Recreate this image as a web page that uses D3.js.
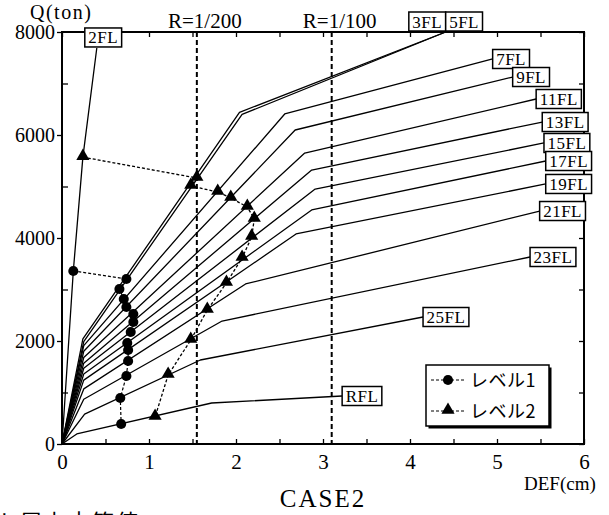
<!DOCTYPE html>
<html><head><meta charset="utf-8">
<script src="https://cdn.jsdelivr.net/npm/d3@7"></script>
<style>body{margin:0;background:#fff}</style>
</head><body>
<script>
// ---- data ----
const floors   = ["2FL","3FL","5FL","7FL","9FL","11FL","13FL","15FL","17FL","19FL","21FL","23FL","25FL","RFL"];
const bend1Def = [0.13,0.24,0.25,0.25,0.25,0.25,0.25,0.25,0.25,0.25,0.25,0.25,0.26,0.17];
const bend1Q   = [3360,2040,1990,1910,1800,1680,1570,1470,1360,1240,1070,870,580,195];
const bend2Def = [0.24,2.04,2.07,2.56,2.68,2.79,2.87,2.91,2.87,2.69,2.11,1.84,1.59,1.72];
const bend2Q   = [5570,6440,6400,6408,6097,5650,5320,4951,4544,4078,3107,2388,1631,796];
const endDef   = [0.40,4.41,4.41,4.95,5.18,5.45,5.52,5.54,5.56,5.56,5.49,5.38,4.15,3.22];
const endQ     = [7690,8000,8000,7476,7126,6699,6252,5845,5495,5049,4524,3631,2466,932];
const level1Def = [0.13,0.74,0.66,0.71,0.74,0.82,0.82,0.79,0.75,0.76,0.76,0.74,0.67,0.68];
const level1Q   = [3360,3204,3010,2816,2660,2524,2369,2175,1961,1825,1612,1320,893,388];
const level2Def = [0.24,1.55,1.48,1.79,1.94,2.13,2.21,2.18,2.07,1.89,1.67,1.48,1.22,1.07];
const level2Q   = [5570,5165,5010,4893,4777,4602,4369,4020,3612,3126,2602,2019,1340,524];
const xTicks = [0,1,2,3,4,5,6];
const yTicks = [0,2000,4000,6000,8000];
const driftDef = [1.55,3.1];
const driftLabels = ["R=1/200","R=1/100"];
const legendLabels = ["レベル1","レベル2"];

// ---- chart ----
const W=609,H=515;
const svg=d3.select("body").append("svg").attr("width",W).attr("height",H);
const x=d3.scaleLinear().domain([0,6]).range([62,584]);
const y=d3.scaleLinear().domain([0,8000]).range([444,32]);
const serif="'Liberation Serif','DejaVu Serif',serif";
const jp="'Noto Sans CJK JP',sans-serif";

// axes ticks
const gB=svg.append("g").attr("transform",`translate(0,${y(0)})`)
  .call(d3.axisBottom(x).tickValues(d3.range(0,6.01,0.5)).tickSize(-5).tickPadding(10)
    .tickFormat(d=>xTicks.includes(d)?d:""));
const gT=svg.append("g").attr("transform",`translate(0,${y(8000)})`)
  .call(d3.axisTop(x).tickValues(d3.range(0,6.01,0.5)).tickSize(-5).tickFormat(""));
const gL=svg.append("g").attr("transform",`translate(${x(0)},0)`)
  .call(d3.axisLeft(y).tickValues(yTicks).tickSize(5).tickPadding(2).tickFormat(d3.format("d")));
const gL2=svg.append("g").attr("transform",`translate(${x(0)},0)`)
  .call(d3.axisLeft(y).tickValues([1000,3000,5000,7000]).tickSize(-6).tickFormat(""));
const gR=svg.append("g").attr("transform",`translate(${x(6)},0)`)
  .call(d3.axisRight(y).tickValues(d3.range(0,8001,1000)).tickSize(-5).tickFormat(""));
[gB,gT,gL,gL2,gR].forEach(g=>{
  g.select(".domain").remove();
  g.selectAll("line").attr("stroke","#000").attr("stroke-width",1.3);
  g.selectAll("text").attr("font-family",serif).attr("font-size",20).attr("fill","#000");
});
gB.selectAll("text").attr("font-size",21);

// frame
svg.append("rect").attr("x",x(0)).attr("y",y(8000)).attr("width",x(6)-x(0)).attr("height",y(0)-y(8000))
  .attr("fill","none").attr("stroke","#000").attr("stroke-width",2);

// drift lines
driftDef.forEach((d,i)=>{
  svg.append("line").attr("x1",x(d)).attr("x2",x(d)).attr("y1",y(8000)).attr("y2",y(0))
    .attr("stroke","#000").attr("stroke-width",2).attr("stroke-dasharray","5,3");
  svg.append("text").attr("x",x(d)+8).attr("y",28).attr("text-anchor","middle")
    .attr("font-family",serif).attr("font-size",21).text(driftLabels[i]);
});

// floor curves
const line=d3.line().x(d=>x(d[0])).y(d=>y(d[1]));
floors.forEach((f,i)=>{
  const pts=[[0,0],[bend1Def[i],bend1Q[i]],[bend2Def[i],bend2Q[i]],[endDef[i],endQ[i]]];
  svg.append("path").attr("d",line(pts)).attr("fill","none").attr("stroke","#000")
    .attr("stroke-width",1.3).attr("stroke-linejoin","round");
});

// level connection lines and markers
svg.append("path").attr("d",line(level1Def.map((d,i)=>[d,level1Q[i]])))
  .attr("fill","none").attr("stroke","#000").attr("stroke-width",1.2).attr("stroke-dasharray","3,2");
svg.append("path").attr("d",line(level2Def.map((d,i)=>[d,level2Q[i]])))
  .attr("fill","none").attr("stroke","#000").attr("stroke-width",1.3).attr("stroke-dasharray","3,2");
const circ=d3.symbol().type(d3.symbolCircle).size(80);
const tri=d3.symbol().type(d3.symbolTriangle).size(75);
level1Def.forEach((d,i)=>svg.append("path").attr("d",circ()).attr("transform",`translate(${x(d)},${y(level1Q[i])})`));
level2Def.forEach((d,i)=>svg.append("path").attr("d",tri()).attr("transform",`translate(${x(d)},${y(level2Q[i])-1})`));

// floor labels
floors.forEach((f,i)=>{
  const ex=x(endDef[i]), ey=y(endQ[i]);
  const g=svg.append("g");
  const t=g.append("text").attr("font-family",serif).attr("font-size",17).attr("letter-spacing",0.5).text(f);
  const w=t.node().getComputedTextLength()+7, h=19;
  let bx,by;
  if(f==="2FL"){bx=ex-12;by=ey-h-1;}
  else if(f==="3FL"){bx=ex-w;by=ey-h-1;}
  else if(f==="5FL"){bx=ex;by=ey-h-1;}
  else {bx=ex;by=ey-h/2;}
  g.insert("rect","text").attr("x",bx).attr("y",by).attr("width",w).attr("height",h)
    .attr("fill","#fff").attr("stroke","#000").attr("stroke-width",1.5);
  t.attr("x",bx+w/2).attr("y",by+h/2+6).attr("text-anchor","middle");
});

// axis titles
svg.append("text").attr("x",30).attr("y",19).attr("font-family",serif).attr("font-size",20)
  .attr("letter-spacing",1.5).text("Q(ton)");
svg.append("text").attr("x",524).attr("y",490).attr("font-family",serif).attr("font-size",19).text("DEF(cm)");
svg.append("text").attr("x",323).attr("y",507).attr("text-anchor","middle").attr("font-family",serif)
  .attr("font-size",25).attr("letter-spacing",2).text("CASE2");
svg.append("text").attr("x",-4).attr("y",530).attr("font-family",jp).attr("font-size",22)
  .attr("letter-spacing",2).text("ト層上方節値");

// legend
const lg=svg.append("g");
lg.append("rect").attr("x",428.5).attr("y",367.5).attr("width",123).attr("height",61).attr("fill","#000");
lg.append("rect").attr("x",426).attr("y",365).attr("width",123).attr("height",61)
  .attr("fill","#fff").attr("stroke","#000").attr("stroke-width",1.5);
const syms=[circ,tri];
legendLabels.forEach((l,i)=>{
  const yy=380+i*31;
  lg.append("line").attr("x1",431).attr("x2",465).attr("y1",yy).attr("y2",yy)
    .attr("stroke","#000").attr("stroke-width",1).attr("stroke-dasharray","3,2");
  lg.append("path").attr("d",syms[i]()).attr("transform",`translate(448,${yy - (i?1:0)})`);
  lg.append("text").attr("x",470).attr("y",yy+7).attr("font-family",jp).attr("font-size",18)
    .attr("letter-spacing",0.5).text(l);
});
</script>
</body></html>
